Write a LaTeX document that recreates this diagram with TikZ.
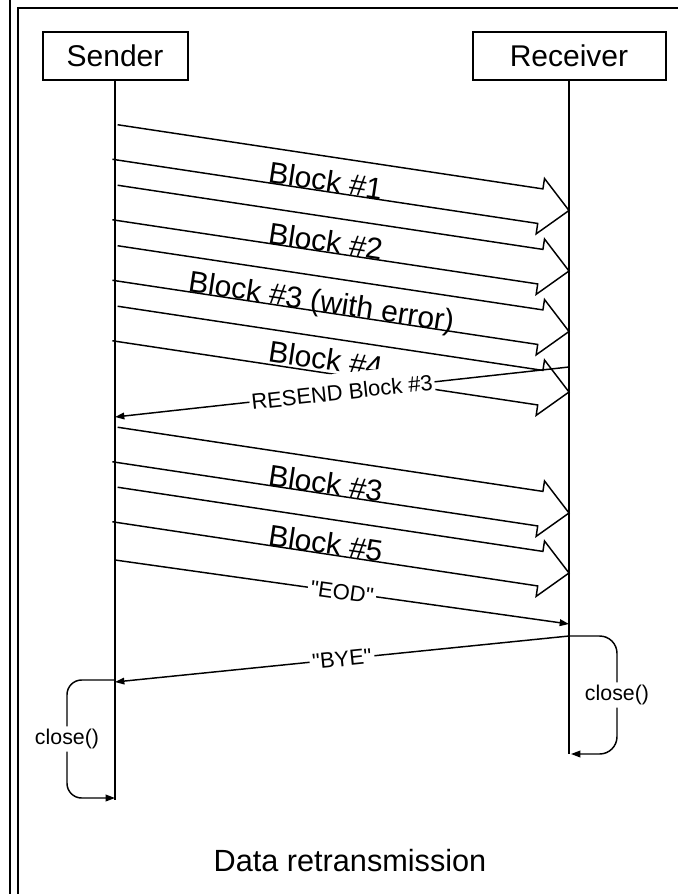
\documentclass[tikz,border=0pt]{standalone}
\usepackage{fontspec}
\setmainfont{Liberation Sans}
\usetikzlibrary{calc,arrows.meta}
\newcommand{\blockarrow}[2]{%
  \coordinate (#1b) at ($(#2)!21.75pt!(#1)$);
  \draw[blockedge] ($(#1)!13.1pt!90:(#2)$) -- ($(#1b)!13.1pt!90:(#2)$) -- ($(#1b)!21pt!90:(#2)$) -- (#2)
     -- ($(#1b)!21pt!-90:(#2)$) -- ($(#1b)!13.1pt!-90:(#2)$) -- ($(#1)!13.1pt!-90:(#2)$);
}
\begin{document}
\begin{tikzpicture}[x=0.75pt,y=-0.75pt,
  lifebox/.style={draw,line width=1.5pt,inner sep=0pt,minimum height=36pt,font=\fontsize{22.5}{26}\selectfont},
  lifeline/.style={line width=1.5pt},
  blockedge/.style={line width=1.1pt,line join=miter},
  blocklabel/.style={inner sep=0pt,anchor=base west,rotate=-8.58,font=\fontsize{22.5}{26}\selectfont},
  msg/.style={line width=1.1pt,-{Triangle[length=7pt,width=5pt]}},
  msglabel/.style={fill=white,inner sep=2pt,font=\fontsize{16.5}{19}\selectfont},
  closelabel/.style={fill=white,inner sep=2pt,font=\fontsize{16}{19}\selectfont},
  frameline/.style={line width=1.5pt}
]
\useasboundingbox (0,0) rectangle (678,894);
% frame
\draw[frameline] (10,0) -- (10,894);
\draw[frameline] (18,894) -- (18,8) -- (678,8);
% lifeline heads
\node[lifebox,minimum width=108.75pt] (sender) at (115,56) {Sender};
\node[lifebox,minimum width=144.75pt] (receiver) at (569,56) {Receiver};
\coordinate (sendEnd) at (115,800);
\coordinate (recvEnd) at (569,754);
\draw[lifeline] (sender.south) -- (sendEnd);
\draw[lifeline] (receiver.south) -- (recvEnd);
% block arrows
\coordinate (s1) at (115,142);   \coordinate (t1) at (569,210.5);
\coordinate (s2) at (115,202.5); \coordinate (t2) at (569,271);
\coordinate (s3) at (115,263);   \coordinate (t3) at (569,331.5);
\coordinate (s4) at (115,323.5); \coordinate (t4) at (569,392);
\coordinate (s5) at (115,444.5); \coordinate (t5) at (569,513);
\coordinate (s6) at (115,504.5); \coordinate (t6) at (569,573);
\blockarrow{s1}{t1}
\blockarrow{s2}{t2}
\blockarrow{s3}{t3}
\blockarrow{s4}{t4}
\blockarrow{s5}{t5}
\blockarrow{s6}{t6}
\node[blocklabel] (l1) at (267,182.4) {Block \#1};
\node[blocklabel] (l2) at (267,243) {Block \#2};
\node[blocklabel] (l3) at (187,291.4) {Block \#3 (with error)};
\node[blocklabel] (l4) at (267,361) {Block \#4};
\node[blocklabel] (l5) at (267,485) {Block \#3};
\node[blocklabel] (l6) at (267,545) {Block \#5};
% messages
\coordinate (rsA) at (569,367); \coordinate (rsB) at (115,417);
\draw[msg] (rsA) -- node[msglabel,sloped,pos=0.5,inner xsep=1.5pt,inner ysep=8pt] (rslabel) {RESEND Block \#3} (rsB);
\coordinate (eodA) at (115,560); \coordinate (eodB) at (569,624);
\draw[msg] (eodA) -- node[msglabel,sloped,pos=0.5] (eodlabel) {\textquotedbl EOD\textquotedbl} (eodB);
\coordinate (byeA) at (569,636); \coordinate (byeB) at (115,682);
\draw[msg] (byeA) -- node[msglabel,sloped,pos=0.5] (byelabel) {\textquotedbl BYE\textquotedbl} (byeB);
% close loops
\coordinate (slA) at (115,680); \coordinate (slB) at (67,680);
\coordinate (slC) at (67,798);  \coordinate (slD) at (115,798);
\draw[msg,rounded corners=11pt] (slA) -- (slB) -- node[closelabel] (sclose) {close()} (slC) -- (slD);
\coordinate (rlA) at (569,636); \coordinate (rlB) at (617,636);
\coordinate (rlC) at (617,754); \coordinate (rlD) at (571,754);
\draw[msg,rounded corners=13pt] (rlA) -- (rlB) -- node[closelabel] (rclose) {close()} (rlC) -- (rlD);
% title
\node[font=\fontsize{23}{27}\selectfont] (title) at (350,861) {Data retransmission};
\end{tikzpicture}
\end{document}
